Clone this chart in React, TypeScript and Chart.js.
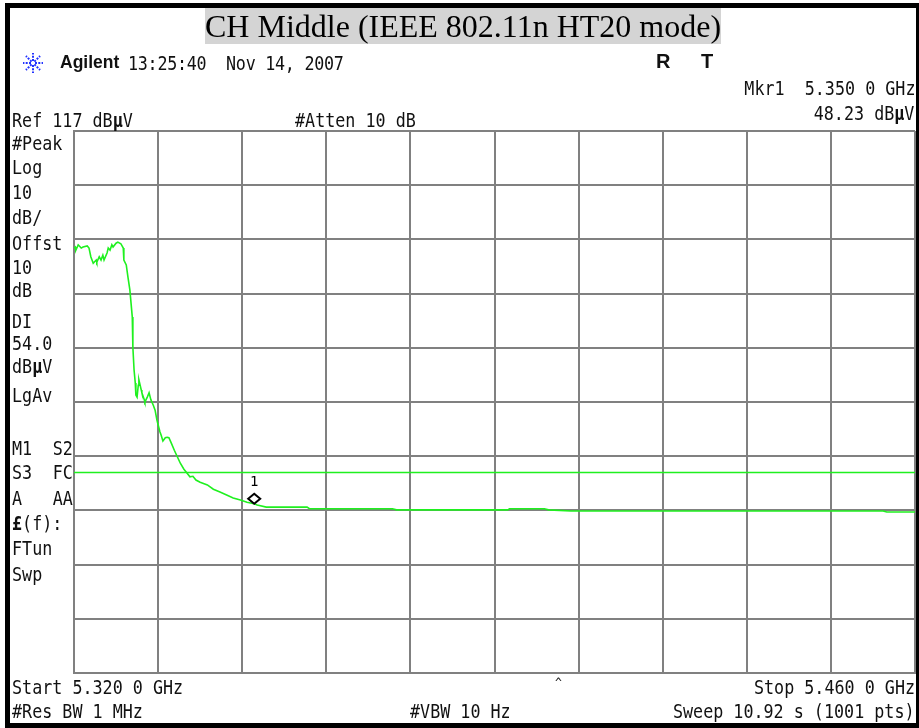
import React, { useEffect, useRef } from "react";
import { Chart, registerables } from "chart.js";

Chart.register(...registerables);

// ---- data ----
const START_MHZ = 5320;
const STOP_MHZ = 5460;
const REF_LEVEL = 117;
const DB_PER_DIV = 10;
const DISPLAY_LINE = 54.0;
const MARKER_FREQ = 5350.0;
const MARKER_LEVEL = 48.23;

const traceFreq = [
  5320.0, 5320.2, 5320.3, 5320.7, 5321.2, 5321.5, 5322.2, 5322.5, 5322.8, 5323.2,
  5323.7, 5323.8, 5324.2, 5324.5, 5324.8, 5325.0, 5325.5, 5325.7, 5326.0, 5326.3,
  5326.5, 5327.0, 5327.3, 5327.8, 5328.2, 5328.3, 5328.7, 5329.0, 5329.3, 5329.7,
  5329.8, 5330.0, 5330.2, 5330.3, 5330.5, 5330.7, 5330.8, 5331.2, 5331.3, 5331.7,
  5331.8, 5332.2, 5332.5, 5332.8, 5333.2, 5333.5, 5333.8, 5334.0, 5334.3, 5334.5,
  5334.8, 5335.2, 5335.5, 5335.8, 5336.2, 5336.7, 5337.2, 5337.7, 5338.3, 5338.8,
  5339.3, 5339.8, 5340.3, 5341.0, 5342.2, 5343.2, 5344.3, 5345.5, 5346.5, 5347.7,
  5348.8, 5350.0, 5350.5, 5352.0, 5358.8, 5359.2, 5373.0, 5373.7, 5392.2, 5392.5,
  5398.3, 5399.0, 5402.7, 5454.7, 5455.3, 5460.0,
];
const traceLevel = [
  95.4, 95.6, 95.0, 96.0, 95.4, 95.6, 95.8, 95.4, 93.8, 92.6,
  93.2, 92.8, 93.8, 93.2, 94.1, 93.2, 94.5, 95.4, 95.0, 96.0,
  95.6, 96.3, 96.5, 96.2, 95.4, 93.2, 92.3, 89.9, 87.7, 82.7,
  77.1, 72.9, 70.5, 68.3, 67.9, 70.1, 71.1, 69.2, 68.7, 67.4,
  67.0, 67.9, 68.7, 67.4, 66.4, 65.5, 63.7, 62.8, 61.5, 60.9,
  59.8, 60.4, 60.5, 60.4, 59.4, 58.1, 56.9, 55.7, 54.6, 53.9,
  53.2, 53.3, 52.6, 52.2, 51.7, 50.9, 50.4, 49.8, 49.3, 48.9,
  48.5, 48.23, 48.0, 47.6, 47.6, 47.3, 47.3, 47.1, 47.1, 47.3,
  47.3, 47.1, 46.9, 46.9, 46.7, 46.7,
];

const leftLabels: [string, number][] = [
  ["#Peak", 143], ["Log", 167], ["10", 192], ["dB/", 217], ["Offst", 243],
  ["10", 267], ["dB", 290], ["DI", 321], ["54.0", 343], ["dBμV", 366], ["LgAv", 395],
  ["M1|S2", 448], ["S3|FC", 472], ["A|AA", 498], ["£(f):", 523], ["FTun", 548], ["Swp", 574],
];

const TRACE_COLOR = "#1ff01f";
const GRID_COLOR = "#808080";

const mono: React.CSSProperties = {
  position: "absolute",
  fontFamily: '"DejaVu Sans Mono", monospace',
  fontSize: 19,
  lineHeight: "22px",
  color: "#111",
  whiteSpace: "pre",
};

function withBold(s: string) {
  const parts = s.split(/([μ£])/);
  return parts.map((p, i) => (p === "μ" || p === "£" ? <b key={i}>{p}</b> : <span key={i}>{p}</span>));
}

const SX = 0.88;

function L({ x, cy, text, style }: { x: number; cy: number; text: string; style?: React.CSSProperties }) {
  return (
    <div style={{ ...mono, left: x, top: cy - 11, transform: `scaleX(${SX})`, transformOrigin: "left center", ...style }}>
      {withBold(text)}
    </div>
  );
}
function R({ xr, cy, text, style }: { xr: number; cy: number; text: string; style?: React.CSSProperties }) {
  return (
    <div style={{ ...mono, right: 919 - xr, top: cy - 11, transform: `scaleX(${SX})`, transformOrigin: "right center", ...style }}>
      {withBold(text)}
    </div>
  );
}

const markerPlugin = {
  id: "markerDiamond",
  afterDatasetsDraw(chart: any) {
    const { ctx, scales } = chart;
    const px = scales.x.getPixelForValue(MARKER_FREQ);
    const py = scales.y.getPixelForValue(MARKER_LEVEL);
    const cy = py - 5;
    ctx.save();
    ctx.strokeStyle = "#000";
    ctx.lineWidth = 2;
    ctx.beginPath();
    ctx.moveTo(px, cy - 5);
    ctx.lineTo(px + 6, cy);
    ctx.lineTo(px, cy + 5);
    ctx.lineTo(px - 6, cy);
    ctx.closePath();
    ctx.stroke();
    ctx.fillStyle = "#000";
    ctx.font = '14px "DejaVu Sans Mono"';
    ctx.textAlign = "center";
    ctx.textBaseline = "middle";
    ctx.fillText("1", px, cy - 16);
    ctx.restore();
  },
};

function SpectrumChart() {
  const ref = useRef<HTMLCanvasElement | null>(null);
  useEffect(() => {
    if (!ref.current) return;
    const chart = new Chart(ref.current, {
      type: "line",
      data: {
        datasets: [
          {
            label: "Trace",
            data: traceFreq.map((f, i) => ({ x: f, y: traceLevel[i] })),
            borderColor: TRACE_COLOR,
            borderWidth: 1.6,
            pointRadius: 0,
            tension: 0,
          },
          {
            label: "Display line",
            data: [
              { x: START_MHZ, y: DISPLAY_LINE },
              { x: STOP_MHZ, y: DISPLAY_LINE },
            ],
            borderColor: TRACE_COLOR,
            borderWidth: 1.6,
            pointRadius: 0,
          },
        ],
      },
      options: {
        animation: false,
        responsive: false,
        devicePixelRatio: 1,
        layout: { padding: 4 },
        plugins: { legend: { display: false }, tooltip: { enabled: false }, title: { display: false } },
        scales: {
          x: {
            type: "linear",
            min: START_MHZ,
            max: STOP_MHZ,
            ticks: { display: false, stepSize: (STOP_MHZ - START_MHZ) / 10 },
            grid: { color: GRID_COLOR, lineWidth: 2, drawTicks: false },
            border: { display: true, color: GRID_COLOR, width: 2 },
          },
          y: {
            type: "linear",
            min: REF_LEVEL - 10 * DB_PER_DIV,
            max: REF_LEVEL,
            ticks: { display: false, stepSize: DB_PER_DIV },
            grid: { color: GRID_COLOR, lineWidth: 2, drawTicks: false },
            border: { display: true, color: GRID_COLOR, width: 2 },
          },
        },
      },
      plugins: [markerPlugin],
    });
    return () => chart.destroy();
  }, []);
  return (
    <canvas
      ref={ref}
      width={849}
      height={550}
      style={{ position: "absolute", left: 70, top: 127, width: 849, height: 550, display: "block" }}
    />
  );
}

function Logo() {
  const rays = [0, 45, 90, 135, 180, 225, 270, 315];
  return (
    <svg width={24} height={22} style={{ position: "absolute", left: 21, top: 52 }}>
      {rays.map((a) => {
        const r = (a * Math.PI) / 180;
        return (
          <line
            key={a}
            x1={12 + Math.cos(r) * 2}
            y1={11 + Math.sin(r) * 2}
            x2={12 + Math.cos(r) * 10}
            y2={11 + Math.sin(r) * 10}
            stroke="#2233ff"
            strokeWidth={2}
            strokeDasharray="2 1.3"
          />
        );
      })}
    </svg>
  );
}

const boldSans: React.CSSProperties = {
  position: "absolute",
  fontFamily: '"Liberation Sans", Arial, sans-serif',
  fontWeight: "bold",
  color: "#111",
};

export default function App() {
  return (
    <div
      style={{
        position: "absolute",
        left: 0,
        top: 0,
        width: 919,
        height: 728,
        overflow: "hidden",
        background: "#fff",
      }}
    >
      <SpectrumChart />
      {/* outer frame */}
      <div
        style={{
          position: "absolute",
          left: 5,
          top: 3,
          width: 916,
          height: 725,
          border: "5px solid #000",
          boxSizing: "border-box",
        }}
      />
      {/* title */}
      <div
        style={{
          position: "absolute",
          left: 205,
          top: 8,
          fontFamily: '"Liberation Serif", "Times New Roman", serif',
          fontSize: 32,
          lineHeight: "36px",
          background: "#d4d4d4",
          color: "#000",
          whiteSpace: "pre",
        }}
      >
        CH Middle (IEEE 802.11n HT20 mode)
      </div>
      <Logo />
      <div style={{ ...boldSans, left: 60, top: 51, fontSize: 17.5, lineHeight: "22px" }}>Agilent</div>
      <L x={128} cy={63} text="13:25:40  Nov 14, 2007" style={{ letterSpacing: "-0.3px" }} />
      <div style={{ ...boldSans, left: 656, top: 50, fontSize: 20, lineHeight: "22px" }}>R</div>
      <div style={{ ...boldSans, left: 701, top: 50, fontSize: 20, lineHeight: "22px" }}>T</div>
      <R xr={915} cy={88} text="Mkr1  5.350 0 GHz" />
      <R xr={914} cy={113} text="48.23 dBμV" />
      <L x={12} cy={120} text="Ref 117 dBμV" />
      <L x={295} cy={120} text="#Atten 10 dB" />
      {leftLabels.map(([t, cy], i) => {
        if (t.includes("|")) {
          const [a, b] = t.split("|");
          return (
            <div
              key={i}
              style={{ ...mono, left: 12, top: cy - 11, width: 61, display: "flex", justifyContent: "space-between" }}
            >
              <span style={{ display: "inline-block", transform: `scaleX(${SX})`, transformOrigin: "left center" }}>{a}</span>
              <span style={{ display: "inline-block", transform: `scaleX(${SX})`, transformOrigin: "right center" }}>{b}</span>
            </div>
          );
        }
        return <L key={i} x={12} cy={cy} text={t} />;
      })}
      <L x={12} cy={687} text="Start 5.320 0 GHz" />
      <L x={555} cy={683} text="^" style={{ fontSize: 13 }} />
      <R xr={915} cy={687} text="Stop 5.460 0 GHz" />
      <L x={12} cy={711} text="#Res BW 1 MHz" />
      <L x={410} cy={711} text="#VBW 10 Hz" />
      <R xr={915} cy={711} text="Sweep 10.92 s (1001 pts)" />
    </div>
  );
}
